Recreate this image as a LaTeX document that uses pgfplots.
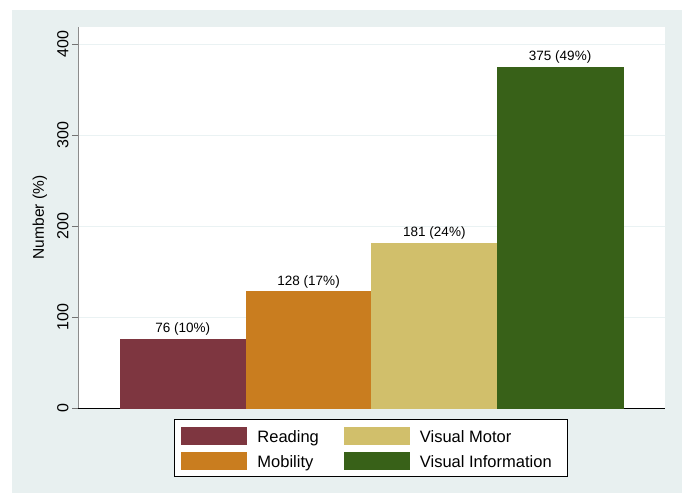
\documentclass[border=0pt]{standalone}
\usepackage{fontspec}
\setmainfont{Liberation Sans}
\usepackage{pgfplots}
\pgfplotsset{compat=1.18}
\definecolor{bgc}{RGB}{232,240,240}
\definecolor{gridc}{RGB}{234,242,243}
\definecolor{cRead}{RGB}{126,54,64}
\definecolor{cMob}{RGB}{201,125,31}
\definecolor{cVM}{RGB}{209,191,107}
\definecolor{cVI}{RGB}{56,97,24}
\begin{document}
\begin{tikzpicture}[x=1pt,y=1pt]
\useasboundingbox (0,0) rectangle (682,493);
\fill[white] (0,0) rectangle (682,493);
\fill[bgc] (12,0) rectangle (682,483);
\begin{axis}[at={(78pt,85pt)}, anchor=south west, scale only axis,
  width=587pt, height=381pt,
  xmin=-0.834, xmax=3.834, ymin=0, ymax=418.7,
  axis background/.style={fill=white},
  ybar, bar width=1, bar shift=0pt,
  xtick=\empty, ytick={0,100,200,300,400},
  ymajorgrids, grid style={draw=gridc, line width=1pt},
  axis x line*=bottom, axis y line*=left,
  x axis line style={black, line width=1pt},
  y axis line style={gray!90, line width=1pt},
  tick align=outside, major tick length=6pt,
  tick style={gray!90!black, line width=0.8pt},
  /pgf/number format/assume math mode=true,
  yticklabel style={rotate=90, anchor=south, font=\fontsize{16}{18}\selectfont},
  ylabel={Number (\%)},
  ylabel style={at={(axis description cs:-0.065,0.5)}, anchor=center, font=\fontsize{15.5}{18}\selectfont},
  point meta=explicit symbolic,
  nodes near coords,
  nodes near coords style={font=\fontsize{13.5}{16}\selectfont, anchor=south, black},
  legend columns=2, transpose legend,
  legend image code/.code={\fill[#1] (0pt,-5.1pt) rectangle (65pt,11.9pt);},
  legend style={at={(0.1635,-0.0289)}, anchor=north west, draw=black, line width=1pt,
    fill=white, font=\fontsize{16.5}{18}\selectfont, inner xsep=7pt, inner ysep=7pt,
    row sep=7pt, nodes={inner sep=0pt, text height=9pt, text depth=1pt}, column sep=10pt,
    /tikz/every even column/.append style={column sep=25pt}},
  legend cell align=left,
]
\addplot[fill=cRead, draw=cRead] coordinates {(0,76) [76 (10\%)]};
\addplot[fill=cMob, draw=cMob] coordinates {(1,128) [128 (17\%)]};
\addplot[fill=cVM, draw=cVM] coordinates {(2,181) [181 (24\%)]};
\addplot[fill=cVI, draw=cVI] coordinates {(3,375) [375 (49\%)]};
\legend{Reading, Mobility, Visual Motor, Visual Information\kern9pt}
\end{axis}
\end{tikzpicture}
\end{document}
